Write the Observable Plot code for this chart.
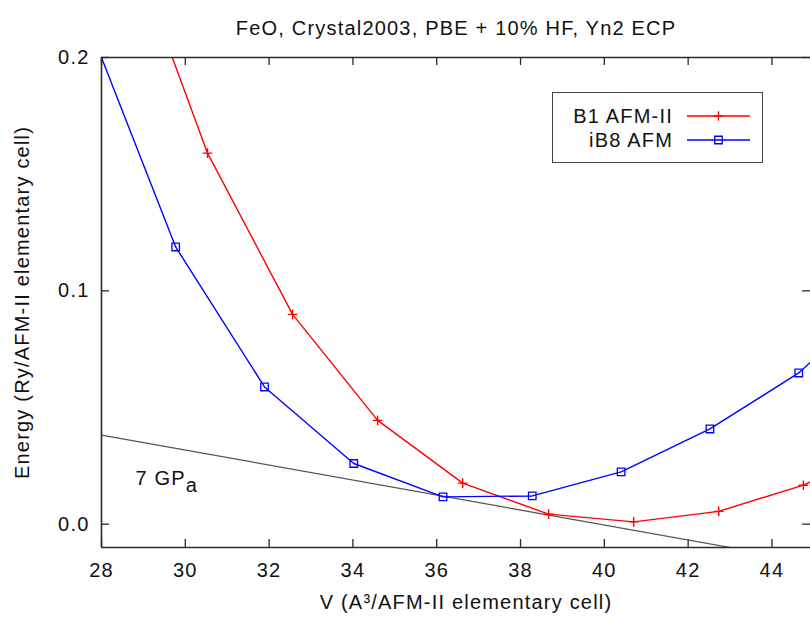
<!DOCTYPE html>
<html>
<head>
<meta charset="utf-8">
<script src="https://cdn.jsdelivr.net/npm/d3@7"></script>
<script src="https://cdn.jsdelivr.net/npm/@observablehq/plot@0.6"></script>
<style>
  html, body { margin: 0; padding: 0; background: #fff; }
  #chart { position: relative; width: 810px; height: 619px; overflow: hidden; }
  #legend {
    position: absolute; left: 552px; top: 92px; width: 209px; height: 69px;
    border: 1.5px solid #444; background: #fff;
    font-family: "Liberation Sans", Arial, sans-serif; font-size: 20px; letter-spacing: 1.2px; color: #111;
  }
  .lg-row { position: absolute; left: 0; width: 100%; height: 24px; }
  .lg-row span { position: absolute; right: 89px; top: 0; line-height: 24px; white-space: nowrap; }
  .lg-row svg { position: absolute; left: 134px; top: 0; }
</style>
</head>
<body>
<div id="chart"></div>
<script>
// Total energy vs. cell volume for two FeO structures
const titleText = "FeO, Crystal2003, PBE + 10% HF, Yn2 ECP";
const xLabel = "V (A³/AFM-II elementary cell)";
const yLabel = "Energy (Ry/AFM-II elementary cell)";

const seriesNames = ["B1 AFM-II", "iB8 AFM"];
const seriesColors = ["#ff0000", "#0000ff"];

// B1 AFM-II (first and last points lie outside the visible window)
const volB1 = [28.50, 30.53, 32.56, 34.59, 36.62, 38.67, 40.70, 42.73, 44.75, 46.78];
const energyB1 = [0.258, 0.159, 0.0899, 0.0445, 0.0176, 0.0043, 0.0010, 0.0055, 0.0167, 0.034];

// iB8 AFM
const volIB8 = [27.65, 29.77, 31.89, 34.02, 36.15, 38.28, 40.40, 42.52, 44.64, 46.76];
const energyIB8 = [0.216, 0.1188, 0.0588, 0.0260, 0.0117, 0.0121, 0.0224, 0.0408, 0.0648, 0.100];

// Common tangent at 7 GPa: slope = -P, converted from GPa to Ry/A^3
const pressureGPa = 7;
const gpaPerRyPerBohr3 = 14710.5;
const bohr3PerA3 = 6.7483;
const tangentAnchorV = 36.15;
const tangentAnchorE = 0.0120;
const tangentV = [28, 46];
const pressureLabel = "7 GPa";
const pressureLabelPos = {v: 28.81, e: 0.0197};

const xDomain = [28, 44.92];
const yDomain = [-0.01, 0.2];
const xTicks = [28, 30, 32, 34, 36, 38, 40, 42, 44];
const yTicks = [0.0, 0.1, 0.2];

const slope = -pressureGPa / gpaPerRyPerBohr3 * bohr3PerA3;
const tangent = tangentV.map(v => ({v, e: tangentAnchorE + slope * (v - tangentAnchorV)}));

const rows = [
  ...volB1.map((v, i) => ({series: seriesNames[0], v, e: energyB1[i]})),
  ...volIB8.map((v, i) => ({series: seriesNames[1], v, e: energyIB8[i]}))
];
const b1 = rows.filter(d => d.series === seriesNames[0]);
const ib8 = rows.filter(d => d.series === seriesNames[1]);

const W = 810, H = 619;
const mL = 101, mR = 0, mT = 57, mB = 72;
const plotW = W - mL - mR, plotH = H - mT - mB;
const tick = 8;
const font = "Liberation Sans, Arial, sans-serif";
const fs = 20;
const frameColor = "#2a2a2a";

const chart = Plot.plot({
  width: W, height: H,
  marginLeft: mL, marginRight: mR, marginTop: mT, marginBottom: mB,
  style: {fontFamily: font, fontSize: fs + "px", letterSpacing: "1.2px", color: "#111", background: "#fff"},
  x: {domain: xDomain},
  y: {domain: yDomain},
  color: {domain: seriesNames, range: seriesColors},
  marks: [
    Plot.axisX({ticks: xTicks, tickSize: 0, tickPadding: 15, label: null, tickFormat: d3.format("d"), fontSize: fs}),
    Plot.axisY({ticks: yTicks, tickSize: 0, tickPadding: 12, label: null, tickFormat: d3.format(".1f"), fontSize: fs}),
    // inward tick marks on all four sides
    Plot.ruleX(xTicks, {insetTop: plotH - tick, stroke: frameColor, strokeWidth: 1.3}),
    Plot.ruleX(xTicks, {insetBottom: plotH - tick, stroke: frameColor, strokeWidth: 1.3}),
    Plot.ruleY(yTicks, {insetRight: plotW - tick, stroke: frameColor, strokeWidth: 1.3}),
    Plot.ruleY(yTicks, {insetLeft: plotW - tick, stroke: frameColor, strokeWidth: 1.3}),
    // tangent line
    Plot.line(tangent, {x: "v", y: "e", stroke: "#555", strokeWidth: 1.2, clip: true}),
    Plot.text([pressureLabelPos], {x: "v", y: "e", text: () => pressureLabel, textAnchor: "start", fontSize: fs, fill: "#111"}),
    // series
    Plot.line(b1, {x: "v", y: "e", stroke: "series", strokeWidth: 1.4, clip: true}),
    Plot.dot(b1, {x: "v", y: "e", stroke: "series", symbol: "plus", r: 3.2, strokeWidth: 1.4, clip: true}),
    Plot.line(ib8, {x: "v", y: "e", stroke: "series", strokeWidth: 1.4, clip: true}),
    Plot.dot(ib8, {x: "v", y: "e", stroke: "series", symbol: "square2", r: 4.8, strokeWidth: 1.3, clip: true}),
    // border (left, top, bottom)
    Plot.ruleX([xDomain[0]], {stroke: frameColor, strokeWidth: 1.6}),
    Plot.ruleY([yDomain[0], yDomain[1]], {stroke: frameColor, strokeWidth: 1.6}),
    // titles
    Plot.text([titleText], {frameAnchor: "top", text: d => d, dy: -37, fontSize: fs, fill: "#111"}),
    Plot.text([xLabel], {frameAnchor: "bottom", text: d => d, dy: 61, dx: 10, fontSize: fs, fill: "#111"}),
    Plot.text([yLabel], {frameAnchor: "left", text: d => d, textAnchor: "middle", dx: -79, rotate: -90, fontSize: fs, fill: "#111"})
  ]
});

// lower the trailing "a" of the pressure label
chart.querySelectorAll("text").forEach(t => {
  if (t.textContent === pressureLabel) {
    t.textContent = pressureLabel.slice(0, -1);
    const sub = document.createElementNS("http://www.w3.org/2000/svg", "tspan");
    sub.setAttribute("dy", "0.35em");
    sub.textContent = pressureLabel.slice(-1);
    t.appendChild(sub);
  }
});

const container = document.getElementById("chart");
container.appendChild(chart);

// legend box
const legend = document.createElement("div");
legend.id = "legend";
const symbols = ["plus", "square2"];
seriesNames.forEach((name, i) => {
  const row = document.createElement("div");
  row.className = "lg-row";
  row.style.top = (11 + i * 24) + "px";
  const label = document.createElement("span");
  label.textContent = name;
  row.appendChild(label);
  const svg = d3.create("svg").attr("width", 64).attr("height", 24);
  svg.append("line").attr("x1", 0).attr("x2", 63).attr("y1", 12).attr("y2", 12)
    .attr("stroke", seriesColors[i]).attr("stroke-width", 1.4);
  const r = symbols[i] === "plus" ? 3.2 : 4.8;
  const sym = symbols[i] === "plus" ? d3.symbolPlus : d3.symbolSquare2;
  svg.append("path").attr("d", d3.symbol(sym, Math.PI * r * r)())
    .attr("transform", "translate(31.5,12)")
    .attr("fill", "none").attr("stroke", seriesColors[i]).attr("stroke-width", 1.3);
  row.appendChild(svg.node());
  legend.appendChild(row);
});
container.appendChild(legend);
</script>
</body>
</html>
